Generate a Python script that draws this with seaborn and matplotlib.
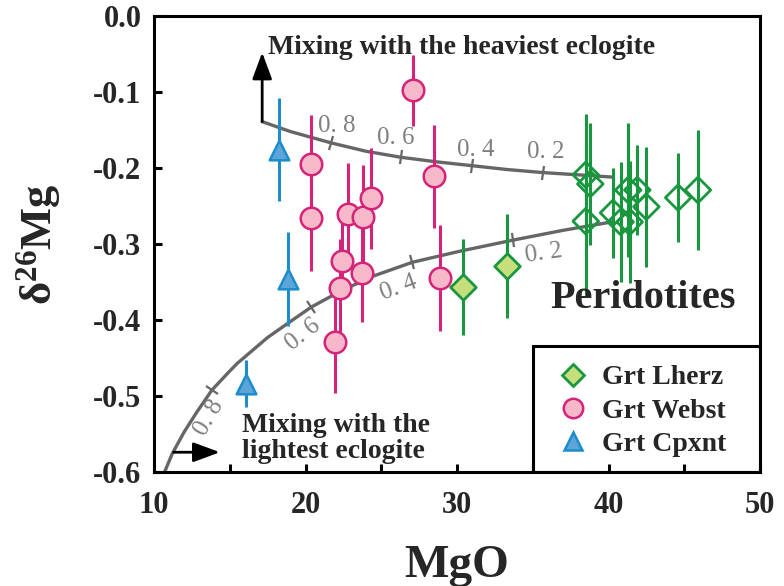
import numpy as np
import pandas as pd
import seaborn as sns
import matplotlib
matplotlib.use("Agg")
import matplotlib.pyplot as plt
from matplotlib.markers import MarkerStyle
from matplotlib.transforms import Affine2D
from matplotlib.patches import Rectangle
from matplotlib.lines import Line2D

# ---------------- data ----------------
# Garnet lherzolites
lherz_mgo = [30.4, 33.3]
lherz_d26 = [-0.357, -0.329]
lherz_err = [0.063, 0.068]

# Garnet websterites
webst_mgo = [20.37, 20.37, 22.8, 23.8, 24.35, 27.1, 28.5, 22.4, 22.3, 23.75, 21.95, 28.85]
webst_d26 = [-0.195, -0.266, -0.261, -0.264, -0.240, -0.098, -0.211, -0.322, -0.358, -0.338, -0.429, -0.345]
webst_err = [0.065, 0.070, 0.067, 0.068, 0.066, 0.047, 0.068, 0.050, 0.065, 0.065, 0.067, 0.070]

# Garnet clinopyroxenites
cpx_mgo = [18.26, 18.86, 16.1]
cpx_d26 = [-0.176, -0.346, -0.484]
cpx_err = [0.068, 0.062, 0.031]

# Peridotites (open diamonds)
perid_mgo = [38.5, 38.8, 38.5, 40.3, 40.8, 41.4, 41.3, 41.9, 42.5, 44.6, 45.9]
perid_d26 = [-0.209, -0.221, -0.270, -0.259, -0.271, -0.271, -0.229, -0.229, -0.251, -0.239, -0.229]
perid_err = [0.080, 0.080, 0.100, 0.059, 0.079, 0.080, 0.088, 0.059, 0.079, 0.059, 0.079]

# Mixing curves with the heaviest / lightest eclogite
heavy_mgo = [17.14, 19.0, 21.70, 24.0, 26.33, 28.7, 31.02, 33.3, 35.65, 38.0, 40.28]
heavy_d26 = [-0.139, -0.152, -0.167, -0.178, -0.186, -0.192, -0.197, -0.202, -0.206, -0.209, -0.212]
light_mgo = [10.7, 11.2, 12.0, 12.8, 13.83, 14.96, 15.5, 17.5, 18.93, 20.38, 22.5, 23.75, 24.5,
             27.06, 30.3, 33.67, 37.0, 40.21]
light_d26 = [-0.600, -0.576, -0.547, -0.522, -0.492, -0.468, -0.457, -0.423, -0.403, -0.383, -0.360,
             -0.349, -0.342, -0.324, -0.309, -0.295, -0.282, -0.271]

fraction_labels = ["0. 8", "0. 6", "0. 4", "0. 2"]
heavy_tick_mgo = [21.70, 26.33, 31.02, 35.65]
heavy_tick_d26 = [-0.167, -0.186, -0.197, -0.206]
light_tick_mgo = [13.83, 20.38, 27.06, 33.67]
light_tick_d26 = [-0.492, -0.383, -0.324, -0.295]

x_major = [10, 20, 30, 40, 50]
x_minor = [15, 25, 35, 45]
y_ticks = [0.0, -0.1, -0.2, -0.3, -0.4, -0.5, -0.6]
y_tick_labels = ["0.0", "-0.1", "-0.2", "-0.3", "-0.4", "-0.5", "-0.6"]

# ---------------- style ----------------
sns.set_theme(style="ticks")
plt.rcParams["font.family"] = ["Liberation Serif", "DejaVu Serif"]
plt.rcParams["font.weight"] = "bold"
plt.rcParams["mathtext.fontset"] = "custom"
plt.rcParams["mathtext.rm"] = "Liberation Serif:bold"
plt.rcParams["mathtext.bf"] = "Liberation Serif:bold"
plt.rcParams["mathtext.it"] = "Liberation Serif:bold"
plt.rcParams["mathtext.default"] = "bf"
plt.rcParams["axes.unicode_minus"] = False

PINK_E, PINK_F = "#d42378", "#f7b8c9"
BLUE_E, BLUE_F = "#1c8ccb", "#5ba5d8"
GREEN_E, GREEN_F = "#18973e", "#c6df7c"
CURVE = "#666666"
FRAC = "#7f7f7f"

fig = plt.figure(figsize=(7.84, 5.86), dpi=100)
ax = fig.add_axes([154 / 784, 1 - 472 / 586, 606 / 784, 456 / 586])
ax.set_xlim(10, 50)
ax.set_ylim(-0.6, 0.0)

# mixing curves
sns.lineplot(x=heavy_mgo, y=heavy_d26, sort=False, estimator=None, color=CURVE, lw=2.4, ax=ax, zorder=1)
sns.lineplot(x=light_mgo, y=light_d26, sort=False, estimator=None, color=CURVE, lw=2.4, ax=ax, zorder=1)


def tick_angle(xs, ys, x0):
    pts = ax.transData.transform(np.column_stack([xs, ys]))
    i = int(np.clip(np.searchsorted(xs, x0), 1, len(xs) - 1))
    dx, dy = pts[i] - pts[i - 1]
    return np.degrees(np.arctan2(dy, dx))


heavy_offsets = [(5, 17), (-6, 19), (3, 16), (3, 21)]
light_offsets = [(-3, -28), (-8, -28), (-14, -26), (31, -13)]
light_rot = [60, 38, 20, 8]

for k in range(4):
    a = tick_angle(heavy_mgo, heavy_d26, heavy_tick_mgo[k])
    ax.plot(heavy_tick_mgo[k], heavy_tick_d26[k], ls="none", color=CURVE, ms=10, mew=1.6,
            marker=MarkerStyle("|", transform=Affine2D().rotate_deg(a)), zorder=1)
    ax.annotate(fraction_labels[k], (heavy_tick_mgo[k], heavy_tick_d26[k]), xytext=heavy_offsets[k],
                textcoords="offset pixels", ha="center", va="center", color=FRAC, fontsize=18,
                fontweight="normal", zorder=1)
    a = tick_angle(light_mgo, light_d26, light_tick_mgo[k])
    ax.plot(light_tick_mgo[k], light_tick_d26[k], ls="none", color=CURVE, ms=10, mew=1.6,
            marker=MarkerStyle("|", transform=Affine2D().rotate_deg(a)), zorder=1)
    ax.annotate(fraction_labels[k], (light_tick_mgo[k], light_tick_d26[k]), xytext=light_offsets[k],
                textcoords="offset pixels", ha="center", va="center", color=FRAC, fontsize=18,
                fontweight="normal", rotation=light_rot[k], rotation_mode="anchor", zorder=1)

# error bars
ax.errorbar(perid_mgo, perid_d26, yerr=perid_err, fmt="none", ecolor=GREEN_E, elinewidth=2.2, capsize=0, zorder=2)
ax.errorbar(lherz_mgo, lherz_d26, yerr=lherz_err, fmt="none", ecolor=GREEN_E, elinewidth=2.2, capsize=0, zorder=2)
ax.errorbar(webst_mgo, webst_d26, yerr=webst_err, fmt="none", ecolor=PINK_E, elinewidth=2.2, capsize=0, zorder=2)
ax.errorbar(cpx_mgo, cpx_d26, yerr=cpx_err, fmt="none", ecolor=BLUE_E, elinewidth=2.2, capsize=0, zorder=2)

# samples
sns.scatterplot(x=perid_mgo, y=perid_d26, marker="D", s=170, facecolor="none", edgecolor=GREEN_E,
                linewidth=2.0, ax=ax, zorder=3)
sns.scatterplot(x=lherz_mgo, y=lherz_d26, marker="D", s=170, color=GREEN_F, edgecolor=GREEN_E,
                linewidth=2.0, ax=ax, zorder=3)
sns.scatterplot(x=webst_mgo, y=webst_d26, marker="o", s=240, color=PINK_F, edgecolor=PINK_E,
                linewidth=1.8, ax=ax, zorder=3)
sns.scatterplot(x=cpx_mgo, y=cpx_d26, marker="^", s=200, color=BLUE_F, edgecolor=BLUE_E,
                linewidth=1.8, ax=ax, zorder=3)

# arrows and annotations
arrow_style = "-|>,head_length=1.35,head_width=0.5"
ax.annotate("", xy=(17.14, -0.048), xytext=(17.14, -0.139),
            arrowprops=dict(arrowstyle=arrow_style, color="black", lw=2.0, shrinkA=0, shrinkB=0))
ax.annotate("", xy=(14.35, -0.574), xytext=(11.3, -0.574),
            arrowprops=dict(arrowstyle=arrow_style, color="black", lw=2.0, shrinkA=0, shrinkB=0))
ax.text(17.55, -0.042, "Mixing with the heaviest eclogite", fontsize=20, fontweight="bold",
        ha="left", va="center")
ax.text(15.8, -0.556, "Mixing with the\nlightest eclogite", fontsize=20, fontweight="bold",
        ha="left", va="center", linespacing=1.05)
ax.text(42.3, -0.372, "Peridotites", fontsize=29, fontweight="bold", ha="center", va="center")

# legend box in the lower-right corner
ax.add_patch(Rectangle((35.0, -0.6), 15.0, 0.166, fill=False, edgecolor="black", lw=2.2, zorder=4))
handles = [
    Line2D([], [], ls="none", marker="D", ms=11, mfc=GREEN_F, mec=GREEN_E, mew=2.0),
    Line2D([], [], ls="none", marker="o", ms=14, mfc=PINK_F, mec=PINK_E, mew=1.8),
    Line2D([], [], ls="none", marker="^", ms=13, mfc=BLUE_F, mec=BLUE_E, mew=1.8),
]
leg = ax.legend(handles, ["Grt Lherz", "Grt Webst", "Grt Cpxnt"], loc="upper left",
                bbox_to_anchor=((556 - 154) / 606, (472 - 365) / 456), frameon=False,
                fontsize=20, handlelength=1.2, handletextpad=0.45, labelspacing=0.28,
                borderpad=0.0, borderaxespad=0.0)
for t in leg.get_texts():
    t.set_fontweight("bold")

# axes styling
for sp in ax.spines.values():
    sp.set_linewidth(2.2)
    sp.set_color("black")
ax.set_xticks(x_major)
ax.set_xticks(x_minor, minor=True)
ax.set_xticklabels([str(v) for v in x_major])
ax.set_yticks(y_ticks)
ax.set_yticklabels(y_tick_labels)
ax.tick_params(axis="both", which="both", direction="in", length=6, width=2.2, color="black",
               labelsize=22, top=False, right=False)
ax.tick_params(axis="x", which="both", pad=14)
ax.tick_params(axis="y", which="both", pad=9)
for lab in ax.get_xticklabels() + ax.get_yticklabels():
    lab.set_fontweight("bold")

ax.set_xlabel("MgO", fontsize=34, fontweight="bold", labelpad=18)
ax.set_ylabel("δ$^{26}$Mg", fontsize=32, fontweight="bold", labelpad=22)

fig.savefig("out.png", dpi=100)
